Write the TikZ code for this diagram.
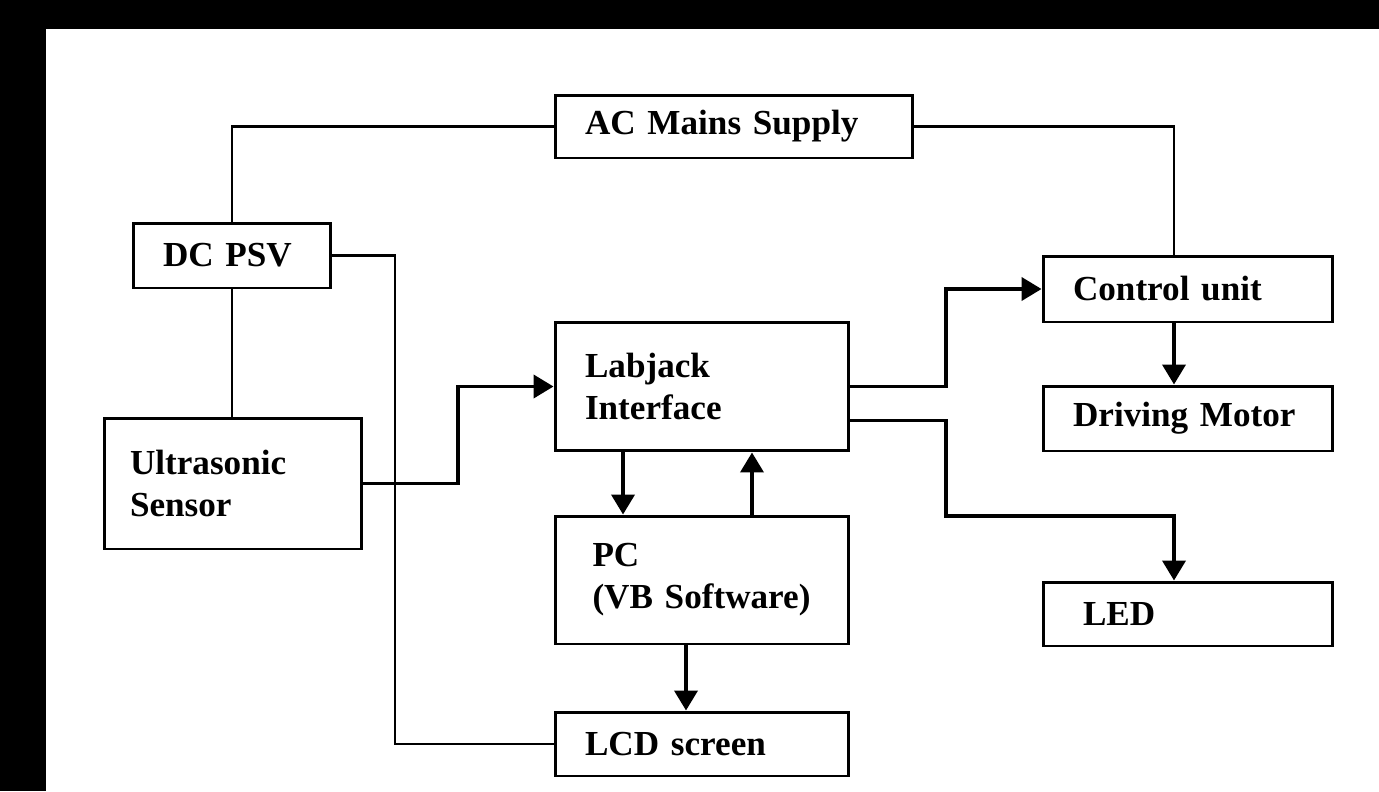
\documentclass[tikz,border=0pt]{standalone}
\usepackage{fontspec}
\setmainfont{Liberation Serif}
\usetikzlibrary{arrows.meta}

\begin{document}
\begin{tikzpicture}[x=0.02cm, y=-0.02cm,
    blk/.style={draw, line width=1.7pt, align=left, inner xsep=0.6cm, inner ysep=0pt,
        font=\bfseries\fontsize{20}{24}\selectfont},
    wire/.style={line width=1.4pt},
    flow/.style={line width=2.2pt, -{Triangle[width=0.46cm, length=0.4cm]}}]
        % black frame round the sheet
        \fill[black] (0,0) rectangle (1379,791);
        \fill[white] (46,29) rectangle (1379,791);
        \useasboundingbox (0,0) rectangle (1379,791);
        % blocks
        \node[blk, text width=5.96cm, minimum height=1.26cm] (ac) at (734,126.5) {AC Mains Supply};
        \node[blk, text width=2.76cm, minimum height=1.3cm] (dc) at (232,255.5) {DC PSV};
        \node[blk, inner xsep=0.52cm, text width=4.12cm, minimum height=2.62cm] (us) at (233,483.5) {Ultrasonic\\Sensor};
        \node[blk, text width=4.68cm, minimum height=2.58cm] (lab) at (702,386.5) {Labjack\\Interface};
        \node[blk, inner xsep=0.75cm, text width=4.38cm, minimum height=2.56cm] (pc) at (702,580) {PC\\(VB Software)};
        \node[blk, text width=4.68cm, minimum height=1.28cm] (lcd) at (702,744) {LCD screen};
        \node[blk, text width=4.6cm, minimum height=1.32cm] (ctl) at (1188,289) {Control unit};
        \node[blk, text width=4.6cm, minimum height=1.3cm] (mot) at (1188,418.5) {Driving Motor};
        \node[blk, inner xsep=0.8cm, text width=4.2cm, minimum height=1.28cm] (led) at (1188,614) {LED};
        % bends of the wiring
        \coordinate (col) at (1174,0);
        \coordinate (bus) at (395,0);
        \coordinate (jog1) at (458,0);
        \coordinate (jog2) at (946,0);
        \coordinate (jog3) at (946,516);
        % supply lines
        \draw[wire] (ac.west) -| (dc.north);
        \draw[wire] (ac.east) -| (col |- ctl.north);
        \draw[wire] (dc.south) -- (dc.south |- us.north);
        \draw[wire] (dc.east) -- (dc.east -| bus) |- (lcd.west);
        % signal flow
        \draw[flow] (us.east) -- (us.east -| jog1) |- (lab.west);
        \draw[flow] (lab.east) -- (lab.east -| jog2) |- (ctl.west);
        \draw[flow] ([yshift=-0.68cm]lab.east) -| (jog3) -| (col |- led.north);
        \draw[flow] (col |- ctl.south) -- (col |- mot.north);
        \draw[flow] ([xshift=-1.58cm]lab.south) -- ([xshift=-1.58cm]pc.north);
        \draw[flow] ([xshift=1cm]pc.north) -- ([xshift=1cm]lab.south);
        \draw[flow] ([xshift=-0.32cm]pc.south) -- ([xshift=-0.32cm]lcd.north);
\end{tikzpicture}
\end{document}
